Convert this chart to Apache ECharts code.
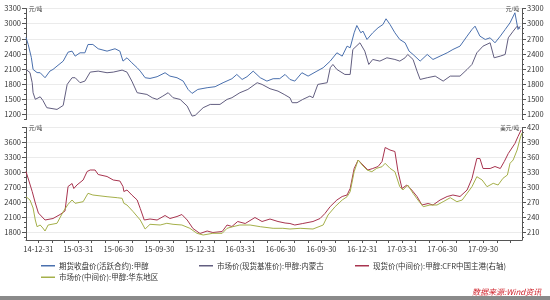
<!DOCTYPE html>
<html><head><meta charset="utf-8">
<script src="https://cdn.jsdelivr.net/npm/echarts@6/dist/echarts.min.js"></script>
<style>html,body{margin:0;padding:0;background:#fff}#c{width:550px;height:300px}</style>
</head><body><div id="c"></div>
<script>
// ---------- data ----------
const seriesNames = ['期货收盘价(活跃合约):甲醇','市场价(现货基准价):甲醇:内蒙古','现货价(中间价):甲醇:CFR中国主港(右轴)','市场价(中间价):甲醇:华东地区'];
const xLabelDates = ['2014-12-31','2015-03-31','2015-06-30','2015-09-30','2015-12-31','2016-03-31','2016-06-30','2016-09-30','2016-12-31','2017-03-31','2017-06-30','2017-09-30'];
const topTickLabels = [1200,1500,1800,2100,2400,2700,3000,3300];
const botLeftTicks = [1800,2100,2400,2700,3000,3300,3600,3900];
const botLeftLabels = [1800,2100,2400,2700,3000,3300,3600];
const botRightLabels = [210,240,270,300,330,360,390,420];

const futuresData = [['2014-12-03',2725],['2014-12-08',2587],['2014-12-15',2330],['2014-12-19',2092],['2014-12-28',2030],['2015-01-04',2027],['2015-01-15',1928],['2015-01-26',2060],['2015-02-02',2092],['2015-02-11',2158],['2015-02-25',2257],['2015-03-08',2435],['2015-03-17',2455],['2015-03-24',2356],['2015-04-04',2422],['2015-04-15',2422],['2015-04-22',2587],['2015-05-03',2587],['2015-05-15',2502],['2015-06-04',2455],['2015-06-22',2502],['2015-07-03',2455],['2015-07-10',2257],['2015-07-19',2323],['2015-07-30',2224],['2015-08-11',2126],['2015-08-18',2059],['2015-08-29',1928],['2015-09-09',1914],['2015-09-25',1948],['2015-10-13',2027],['2015-10-24',1960],['2015-11-09',1928],['2015-11-23',1861],['2015-12-04',1696],['2015-12-13',1617],['2015-12-26',1696],['2016-01-16',1730],['2016-02-03',1750],['2016-02-21',1829],['2016-03-12',1908],['2016-03-23',1993],['2016-04-04',1894],['2016-04-15',1948],['2016-04-29',2059],['2016-05-15',1928],['2016-05-30',1861],['2016-06-13',1908],['2016-06-28',1910],['2016-07-10',1993],['2016-07-21',1894],['2016-08-01',1861],['2016-08-17',2027],['2016-08-31',1960],['2016-09-20',2059],['2016-10-04',2126],['2016-10-20',2257],['2016-11-04',2422],['2016-11-16',2356],['2016-11-27',2554],['2016-12-04',2522],['2016-12-13',2819],['2016-12-19',2963],['2016-12-28',2819],['2017-01-02',2851],['2017-01-11',2686],['2017-01-24',2819],['2017-02-05',2918],['2017-02-16',2983],['2017-02-23',3096],['2017-03-04',2983],['2017-03-15',2819],['2017-03-26',2686],['2017-04-07',2620],['2017-04-16',2455],['2017-04-25',2389],['2017-05-11',2257],['2017-05-27',2389],['2017-06-09',2290],['2017-06-25',2356],['2017-07-11',2422],['2017-07-24',2488],['2017-08-09',2554],['2017-08-25',2752],['2017-09-05',2884],['2017-09-12',2950],['2017-09-23',2752],['2017-10-05',2686],['2017-10-16',2719],['2017-10-27',2620],['2017-11-08',2752],['2017-11-19',2884],['2017-11-30',3017],['2017-12-11',3215],['2017-12-18',2884],['2017-12-23',2950]];

const innerMongoliaData = [['2014-12-03',2092],['2014-12-12',2030],['2014-12-17',1830],['2014-12-19',1630],['2014-12-24',1500],['2015-01-04',1550],['2015-01-10',1480],['2015-01-19',1334],['2015-02-11',1300],['2015-02-25',1379],['2015-03-06',1795],['2015-03-17',1928],['2015-03-24',1928],['2015-04-04',1829],['2015-04-15',1861],['2015-04-27',2039],['2015-05-15',2059],['2015-06-04',2027],['2015-06-18',2039],['2015-07-08',2079],['2015-07-19',2039],['2015-07-30',1861],['2015-08-11',1631],['2015-09-02',1597],['2015-09-14',1532],['2015-09-25',1498],['2015-10-08',1564],['2015-10-20',1631],['2015-10-31',1532],['2015-11-16',1498],['2015-12-02',1366],['2015-12-13',1168],['2015-12-20',1181],['2016-01-07',1334],['2016-01-23',1399],['2016-02-14',1399],['2016-03-01',1498],['2016-03-12',1532],['2016-03-30',1631],['2016-04-17',1696],['2016-05-08',1829],['2016-05-19',1795],['2016-06-06',1710],['2016-06-24',1663],['2016-07-08',1597],['2016-07-21',1530],['2016-07-26',1433],['2016-08-06',1433],['2016-08-19',1498],['2016-09-04',1564],['2016-09-11',1532],['2016-09-22',1795],['2016-10-13',1829],['2016-10-20',2126],['2016-10-26',2191],['2016-11-04',2092],['2016-11-22',1993],['2016-12-04',1993],['2016-12-10',2488],['2016-12-26',2620],['2017-01-06',2455],['2017-01-15',2191],['2017-01-24',2290],['2017-02-09',2257],['2017-02-25',2323],['2017-03-15',2290],['2017-03-26',2257],['2017-04-07',2323],['2017-04-13',2389],['2017-04-25',2290],['2017-05-04',2059],['2017-05-11',1894],['2017-05-27',1928],['2017-06-14',1960],['2017-07-02',1861],['2017-07-18',1960],['2017-08-09',1960],['2017-08-25',2092],['2017-09-05',2191],['2017-09-16',2422],['2017-09-30',2554],['2017-10-16',2620],['2017-10-25',2323],['2017-11-08',2356],['2017-11-19',2389],['2017-11-26',2719],['2017-12-07',2850],['2017-12-16',2950],['2017-12-23',2900]];

const cfrData = [['2014-12-03',332],['2014-12-17',292],['2014-12-24',269],['2014-12-31',249],['2015-01-04',246],['2015-01-15',235],['2015-01-19',235],['2015-02-02',238],['2015-02-18',246],['2015-03-01',253],['2015-03-08',302],['2015-03-17',308],['2015-03-21',298],['2015-03-28',305],['2015-04-11',315],['2015-04-20',332],['2015-04-27',335],['2015-05-08',335],['2015-05-15',326],['2015-06-04',322],['2015-06-18',315],['2015-07-03',313],['2015-07-10',302],['2015-07-12',292],['2015-07-19',295],['2015-07-30',285],['2015-08-11',275],['2015-08-18',258],['2015-08-27',235],['2015-09-09',237],['2015-09-25',235],['2015-10-13',244],['2015-10-24',238],['2015-11-09',242],['2015-11-20',246],['2015-12-02',235],['2015-12-15',218],['2015-12-31',208],['2016-01-16',213],['2016-01-29',210],['2016-02-19',212],['2016-03-01',225],['2016-03-12',222],['2016-03-25',232],['2016-04-11',228],['2016-05-03',240],['2016-05-19',232],['2016-06-06',237],['2016-06-24',232],['2016-07-10',229],['2016-07-21',228],['2016-08-01',225],['2016-08-19',228],['2016-09-11',232],['2016-09-27',238],['2016-10-08',248],['2016-10-20',262],['2016-11-04',275],['2016-11-16',282],['2016-11-27',285],['2016-12-04',298],['2016-12-13',338],['2016-12-22',355],['2017-01-02',345],['2017-01-13',335],['2017-01-24',338],['2017-02-05',342],['2017-02-14',352],['2017-02-21',380],['2017-03-04',375],['2017-03-15',372],['2017-03-22',332],['2017-03-31',298],['2017-04-11',305],['2017-04-22',295],['2017-05-04',282],['2017-05-15',265],['2017-05-29',268],['2017-06-09',265],['2017-06-25',275],['2017-07-11',282],['2017-07-24',285],['2017-08-09',282],['2017-08-25',295],['2017-09-05',318],['2017-09-16',358],['2017-09-23',358],['2017-09-30',338],['2017-10-16',338],['2017-10-27',342],['2017-11-08',338],['2017-11-17',352],['2017-11-26',368],['2017-11-30',372],['2017-12-11',388],['2017-12-18',402],['2017-12-25',415]];

const eastChinaData = [['2014-12-03',2516],['2014-12-12',2450],['2014-12-19',2290],['2014-12-24',2050],['2014-12-28',1916],['2015-01-04',1950],['2015-01-10',1890],['2015-01-15',1830],['2015-01-22',1950],['2015-02-11',1984],['2015-02-25',2216],['2015-03-08',2364],['2015-03-17',2450],['2015-03-24',2384],['2015-04-11',2416],['2015-04-22',2584],['2015-05-03',2550],['2015-06-04',2516],['2015-06-27',2496],['2015-07-08',2484],['2015-07-12',2384],['2015-07-19',2350],['2015-08-02',2216],['2015-08-18',2050],['2015-08-29',1870],['2015-09-09',1964],['2015-10-02',1950],['2015-10-17',1984],['2015-10-31',1964],['2015-11-20',1950],['2015-12-08',1884],['2015-12-24',1784],['2016-01-07',1750],['2016-01-29',1784],['2016-02-19',1784],['2016-03-01',1884],['2016-03-14',1916],['2016-03-30',1950],['2016-04-22',1950],['2016-05-15',1916],['2016-06-13',1884],['2016-07-05',1884],['2016-07-21',1870],['2016-08-13',1884],['2016-09-11',1870],['2016-10-04',1950],['2016-10-15',2150],['2016-10-31',2316],['2016-11-16',2450],['2016-11-27',2516],['2016-12-04',2616],['2016-12-13',3016],['2016-12-22',3250],['2016-12-31',3150],['2017-01-11',3050],['2017-01-22',3016],['2017-02-02',3084],['2017-02-14',3116],['2017-02-21',3184],['2017-03-04',3084],['2017-03-15',3016],['2017-03-26',2716],['2017-04-02',2650],['2017-04-13',2750],['2017-04-25',2584],['2017-05-06',2450],['2017-05-18',2316],['2017-06-02',2350],['2017-06-18',2350],['2017-07-02',2416],['2017-07-18',2496],['2017-08-02',2416],['2017-08-14',2450],['2017-08-25',2584],['2017-09-05',2716],['2017-09-16',2916],['2017-09-28',2850],['2017-10-09',2716],['2017-10-23',2784],['2017-11-03',2750],['2017-11-14',2884],['2017-11-24',2950],['2017-11-30',3184],['2017-12-07',3250],['2017-12-16',3450],['2017-12-23',3690],['2017-12-27',3790]];

// ---------- helpers ----------
const FONT = '"Noto Sans CJK SC", "Noto Sans", sans-serif';
const ts = s => Date.parse(s);
const toPts = arr => arr.map(p => [ts(p[0]), p[1]]);
const X_MIN = ts('2014-12-03'), X_MAX = ts('2017-12-27');
const monthEnds = [];
for (let y = 2014, m = 11; y < 2017 || (y === 2017 && m <= 10); ) {
  monthEnds.push(Date.UTC(y, m + 1, 0));
  m++; if (m > 11) { m = 0; y++; }
}
function steps(min, max, step) { const a = []; for (let v = min; v <= max + 1e-9; v += step) a.push(v); return a; }
const fmtDate = v => { const d = new Date(v); const p = n => String(n).padStart(2, '0'); return String(d.getUTCFullYear()).slice(2) + '-' + p(d.getUTCMonth() + 1) + '-' + p(d.getUTCDate()); };

const AX = '#555', TXT = '#333';
function yMain(grid, pos, min, max, labels, minor, name) {
  return {
    type: 'value', gridIndex: grid, position: pos, min, max,
    name, nameLocation: 'end', nameGap: 0,
    nameTextStyle: { fontSize: 5.5, color: TXT, fontFamily: FONT, align: pos === 'left' ? 'left' : 'right', verticalAlign: 'middle', padding: pos === 'left' ? [0, 0, 0, 3] : [0, 3, 0, 0] },
    axisLine: { show: true, lineStyle: { color: AX, width: 1 } },
    axisTick: { show: true, customValues: minor, length: 2, lineStyle: { color: AX } },
    axisLabel: { customValues: labels, formatter: v => String(v), fontSize: 7.5, color: TXT, margin: 5, fontFamily: FONT },
    splitLine: { show: false }
  };
}
function yMajor(grid, pos, min, max, ticks, split) {
  return {
    type: 'value', gridIndex: grid, position: pos, min, max,
    axisLine: { show: false }, axisLabel: { show: false },
    axisTick: { show: true, customValues: ticks, length: 4, lineStyle: { color: AX } },
    splitLine: { show: split, lineStyle: { color: '#ebebeb', width: 1 } }
  };
}
const legendBase = { icon: 'rect', itemWidth: 14, itemHeight: 1.5, padding: 0, itemGap: 0, textStyle: { fontSize: 7.5, color: TXT, fontFamily: FONT, padding: [0, 0, 0, -1] } };
const colors = ['#4a70ae', '#625e80', '#a8344f', '#a5b04a'];

const chart = echarts.init(document.getElementById('c'), null, { renderer: 'canvas' });
chart.setOption({
  animation: false,
  backgroundColor: '#fff',
  grid: [
    { left: 26, right: 28, top: 8.5, height: 111 },
    { left: 26, right: 28, top: 127.5, height: 112.5 }
  ],
  xAxis: [
    { type: 'value', gridIndex: 0, min: X_MIN, max: X_MAX, show: false },
    { type: 'value', gridIndex: 1, min: X_MIN, max: X_MAX,
      axisLine: { lineStyle: { color: AX } },
      axisTick: { customValues: monthEnds, length: 3, lineStyle: { color: AX } },
      axisLabel: { customValues: xLabelDates.map(ts), formatter: fmtDate, fontSize: 7.5, color: TXT, margin: 5, fontFamily: FONT },
      splitLine: { show: false } }
  ],
  yAxis: [
    yMain(0, 'left', 1100, 3300, topTickLabels, steps(1100, 3300, 100), '元/吨'),
    yMain(0, 'right', 1100, 3300, topTickLabels, steps(1100, 3300, 100), '元/吨'),
    yMain(1, 'left', 1650, 3900, botLeftLabels, steps(1700, 3900, 100), '元/吨'),
    yMain(1, 'right', 195, 420, botRightLabels, steps(200, 420, 10), '美元/吨'),
    yMajor(0, 'left', 1100, 3300, topTickLabels, true),
    yMajor(0, 'right', 1100, 3300, topTickLabels, false),
    yMajor(1, 'left', 1650, 3900, botLeftTicks, true),
    yMajor(1, 'right', 195, 420, botRightLabels, false)
  ],
  legend: [
    Object.assign({}, legendBase, { data: [seriesNames[0]], left: 41, top: 262 }),
    Object.assign({}, legendBase, { data: [seriesNames[1]], left: 199, top: 262 }),
    Object.assign({}, legendBase, { data: [seriesNames[2]], left: 355, top: 262 }),
    Object.assign({}, legendBase, { data: [seriesNames[3]], left: 41, top: 273.5 })
  ],
  series: [
    { name: seriesNames[0], type: 'line', xAxisIndex: 0, yAxisIndex: 0, data: toPts(futuresData), showSymbol: false, symbol: 'none', lineStyle: { width: 1, color: colors[0] }, itemStyle: { color: colors[0] } },
    { name: seriesNames[1], type: 'line', xAxisIndex: 0, yAxisIndex: 0, data: toPts(innerMongoliaData), showSymbol: false, symbol: 'none', lineStyle: { width: 1, color: colors[1] }, itemStyle: { color: colors[1] } },
    { name: seriesNames[2], type: 'line', xAxisIndex: 1, yAxisIndex: 3, data: toPts(cfrData), showSymbol: false, symbol: 'none', lineStyle: { width: 1, color: colors[2] }, itemStyle: { color: colors[2] } },
    { name: seriesNames[3], type: 'line', xAxisIndex: 1, yAxisIndex: 2, data: toPts(eastChinaData), showSymbol: false, symbol: 'none', lineStyle: { width: 1, color: colors[3] }, itemStyle: { color: colors[3] } }
  ],
  graphic: [
    { type: 'text', left: 472, top: 288, style: { text: '数据来源:Wind资讯', fill: '#d0222b', fontSize: 8, fontStyle: 'italic', fontFamily: FONT } },
    { type: 'rect', left: 0, top: 296, shape: { width: 550, height: 4 }, style: { fill: '#8a8a8a' } }
  ]
});
</script>
</body></html>
